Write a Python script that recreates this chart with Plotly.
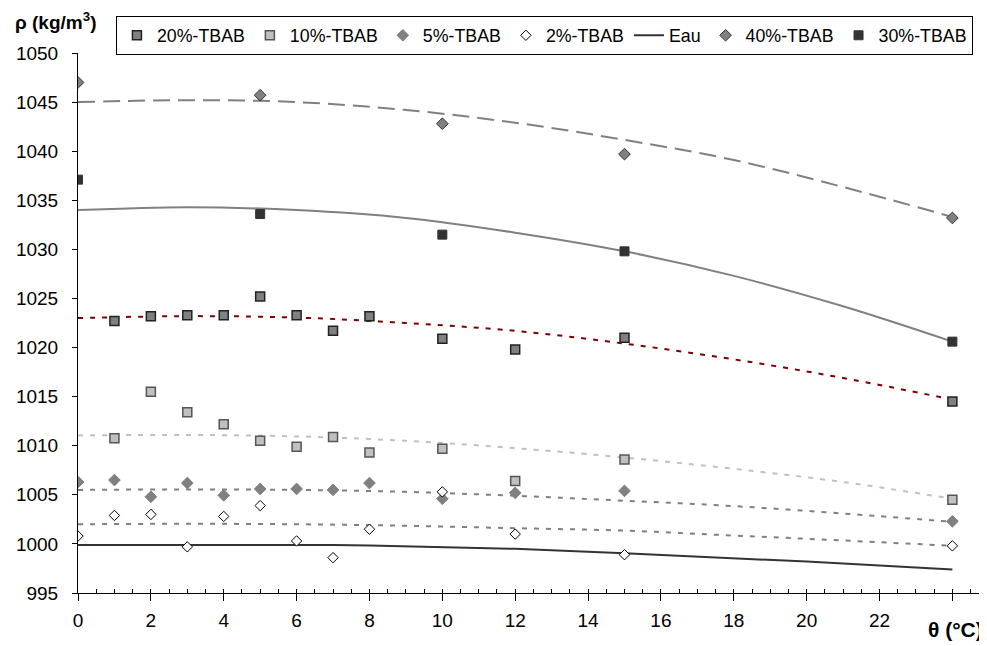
import plotly.graph_objects as go

# ---- data ----
temps_20 = [1, 2, 3, 4, 5, 6, 7, 8, 10, 12, 15, 24]
rho_20 = [1022.7, 1023.2, 1023.3, 1023.3, 1025.2, 1023.3, 1021.7, 1023.2, 1020.9, 1019.8, 1021.0, 1014.5]

temps_10 = [1, 2, 3, 4, 5, 6, 7, 8, 10, 12, 15, 24]
rho_10 = [1010.75, 1015.5, 1013.4, 1012.2, 1010.5, 1009.9, 1010.9, 1009.3, 1009.7, 1006.4, 1008.6, 1004.5]

temps_5 = [0, 1, 2, 3, 4, 5, 6, 7, 8, 10, 12, 15, 24]
rho_5 = [1006.3, 1006.5, 1004.8, 1006.2, 1004.95, 1005.6, 1005.6, 1005.5, 1006.2, 1004.6, 1005.2, 1005.4, 1002.3]

temps_2 = [0, 1, 2, 3, 4, 5, 6, 7, 8, 10, 12, 15, 24]
rho_2 = [1000.8, 1002.9, 1003.0, 999.7, 1002.8, 1003.9, 1000.3, 998.6, 1001.5, 1005.3, 1001.0, 998.9, 999.8]

temps_eau = [0, 1, 2, 3, 4, 5, 6, 7, 8, 10, 12, 15, 20, 24]
rho_eau = [999.9, 999.9, 999.95, 999.95, 999.95, 999.95, 999.9, 999.9, 999.85, 999.7, 999.5, 999.05, 998.2, 997.4]

temps_40 = [0, 5, 10, 15, 24]
rho_40 = [1047.0, 1045.7, 1042.8, 1039.7, 1033.2]

temps_30 = [0, 5, 10, 15, 24]
rho_30 = [1037.1, 1033.6, 1031.5, 1029.8, 1020.6]

# trend curves
trend_x = [0, 3, 6, 9, 12, 15, 18, 21, 24]
trend_40 = [1045.0, 1045.2, 1045.0, 1044.2, 1042.9, 1041.15, 1039.1, 1036.35, 1033.3]
trend_30 = [1034.0, 1034.3, 1034.0, 1033.2, 1031.7, 1029.8, 1027.3, 1024.2, 1020.6]
trend_20 = [1023.0, 1023.2, 1023.05, 1022.5, 1021.7, 1020.4, 1018.8, 1016.9, 1014.7]
trend_10 = [1011.05, 1011.1, 1010.95, 1010.5, 1009.75, 1008.8, 1007.65, 1006.3, 1004.6]
trend_5 = [1005.5, 1005.55, 1005.5, 1005.3, 1004.9, 1004.4, 1003.85, 1003.1, 1002.25]
trend_2 = [1002.0, 1002.05, 1002.0, 1001.85, 1001.6, 1001.35, 1000.85, 1000.35, 999.8]

x_ticks = [0, 2, 4, 6, 8, 10, 12, 14, 16, 18, 20, 22]
x_ticklabels = ["0", "2", "4", "6", "8", "10", "12", "14", "16", "18", "20", "22"]
x_end_tick = [24]
y_ticks = [995, 1000, 1005, 1010, 1015, 1020, 1025, 1030, 1035, 1040, 1045, 1050]
minor_x = [i * 0.5 for i in range(0, 50)]

FONT = "Arial, Liberation Sans, Helvetica, sans-serif"

# page body has an 8px margin in the browser; compensate so the plot sits where the reference does
OFF = 8
L, T = 76 - OFF, 50 - OFF
PW, PH = 987 - 76, 543
R = 987 - L - PW
B = 646 - T - PH

fig = go.Figure()

# trend lines (beneath markers)
trend_styles = [
    (trend_40, "#808080", "17px,8px"),
    (trend_30, "#808080", "solid"),
    (trend_20, "#800000", "5px,7px"),
    (trend_10, "#c0c0c0", "5px,7px"),
    (trend_5, "#808080", "5px,7px"),
    (trend_2, "#808080", "5px,7px"),
]
for ys, col, dash in trend_styles:
    fig.add_trace(go.Scatter(x=trend_x, y=ys, mode="lines", showlegend=False,
                             line=dict(color=col, width=2, dash=dash, shape="spline", smoothing=1),
                             hoverinfo="skip"))

# water line
fig.add_trace(go.Scatter(x=temps_eau, y=rho_eau, mode="lines", name="Eau", legendrank=5,
                         line=dict(color="#333333", width=2)))

# markers
fig.add_trace(go.Scatter(x=temps_20, y=rho_20, mode="markers", name="20%-TBAB", legendrank=1,
                         marker=dict(symbol="square", size=9, color="#808080",
                                     line=dict(color="#222222", width=1.5))))
fig.add_trace(go.Scatter(x=temps_10, y=rho_10, mode="markers", name="10%-TBAB", legendrank=2,
                         marker=dict(symbol="square", size=9, color="#c0c0c0",
                                     line=dict(color="#555555", width=1.5))))
fig.add_trace(go.Scatter(x=temps_5, y=rho_5, mode="markers", name="5%-TBAB", legendrank=3,
                         marker=dict(symbol="diamond", size=9, color="#808080",
                                     line=dict(color="#808080", width=1))))
fig.add_trace(go.Scatter(x=temps_2, y=rho_2, mode="markers", name="2%-TBAB", legendrank=4,
                         marker=dict(symbol="diamond", size=8, color="#ffffff",
                                     line=dict(color="#000000", width=1))))
fig.add_trace(go.Scatter(x=temps_40, y=rho_40, mode="markers", name="40%-TBAB", legendrank=6,
                         marker=dict(symbol="diamond", size=9, color="#808080",
                                     line=dict(color="#333333", width=1))))
fig.add_trace(go.Scatter(x=temps_30, y=rho_30, mode="markers", name="30%-TBAB", legendrank=7,
                         marker=dict(symbol="square", size=9, color="#333333",
                                     line=dict(color="#333333", width=1))))

# invisible traces on overlay axes (minor inside ticks, end tick at 24)
fig.add_trace(go.Scatter(x=[0], y=[995], xaxis="x2", mode="markers", showlegend=False,
                         marker=dict(opacity=0), hoverinfo="skip"))
fig.add_trace(go.Scatter(x=[0], y=[995], xaxis="x3", mode="markers", showlegend=False,
                         marker=dict(opacity=0), hoverinfo="skip"))

XR = [0, 24.95]
fig.update_layout(
    width=987, height=646,
    margin=dict(l=L, r=R, t=T, b=B),
    paper_bgcolor="white", plot_bgcolor="white",
    font=dict(family=FONT, size=18, color="#000000"),
    showlegend=True,
    legend=dict(orientation="h", x=(114 - 76) / PW, y=1 + (50 - 13) / PH,
                xanchor="left", yanchor="top",
                bordercolor="#000000", borderwidth=1, bgcolor="white",
                font=dict(family=FONT, size=17.8), itemwidth=30, traceorder="normal",
                tracegroupgap=0),
    xaxis=dict(range=XR, tickmode="array", tickvals=x_ticks, ticktext=x_ticklabels,
               showgrid=False, zeroline=False, showline=True, linecolor="#000000", linewidth=1,
               ticks="outside", ticklen=7, tickcolor="#000000", tickwidth=1,
               tickfont=dict(family=FONT, size=19), ticklabelstandoff=3),
    xaxis2=dict(range=XR, overlaying="x", anchor="y", side="bottom",
                tickmode="array", tickvals=minor_x, showticklabels=False,
                ticks="inside", ticklen=4, tickcolor="#000000", tickwidth=1,
                showgrid=False, zeroline=False, showline=False),
    xaxis3=dict(range=XR, overlaying="x", anchor="y", side="bottom",
                tickmode="array", tickvals=x_end_tick, showticklabels=False,
                ticks="outside", ticklen=7, tickcolor="#000000", tickwidth=1,
                showgrid=False, zeroline=False, showline=False),
    yaxis=dict(range=[995, 1050], tickmode="array", tickvals=y_ticks,
               showgrid=False, zeroline=False, showline=True, linecolor="#000000", linewidth=1,
               ticks="outside", ticklen=5, tickcolor="#000000", tickwidth=1,
               tickfont=dict(family=FONT, size=19), ticklabelstandoff=10),
    annotations=[
        dict(text="<b>ρ (kg/m<sup>3</sup>)</b>", xref="paper", yref="paper",
             x=-(76 - 11) / PW, y=1 + (50 - 4) / PH, xanchor="left", yanchor="top",
             showarrow=False, font=dict(family=FONT, size=19)),
        dict(text="<b>θ (°C)</b>", xref="paper", yref="paper",
             x=1 - 2 / PW, y=-(616 - 593) / PH, xanchor="right", yanchor="top",
             showarrow=False, font=dict(family=FONT, size=21)),
    ],
)

fig.write_html("out.html")
